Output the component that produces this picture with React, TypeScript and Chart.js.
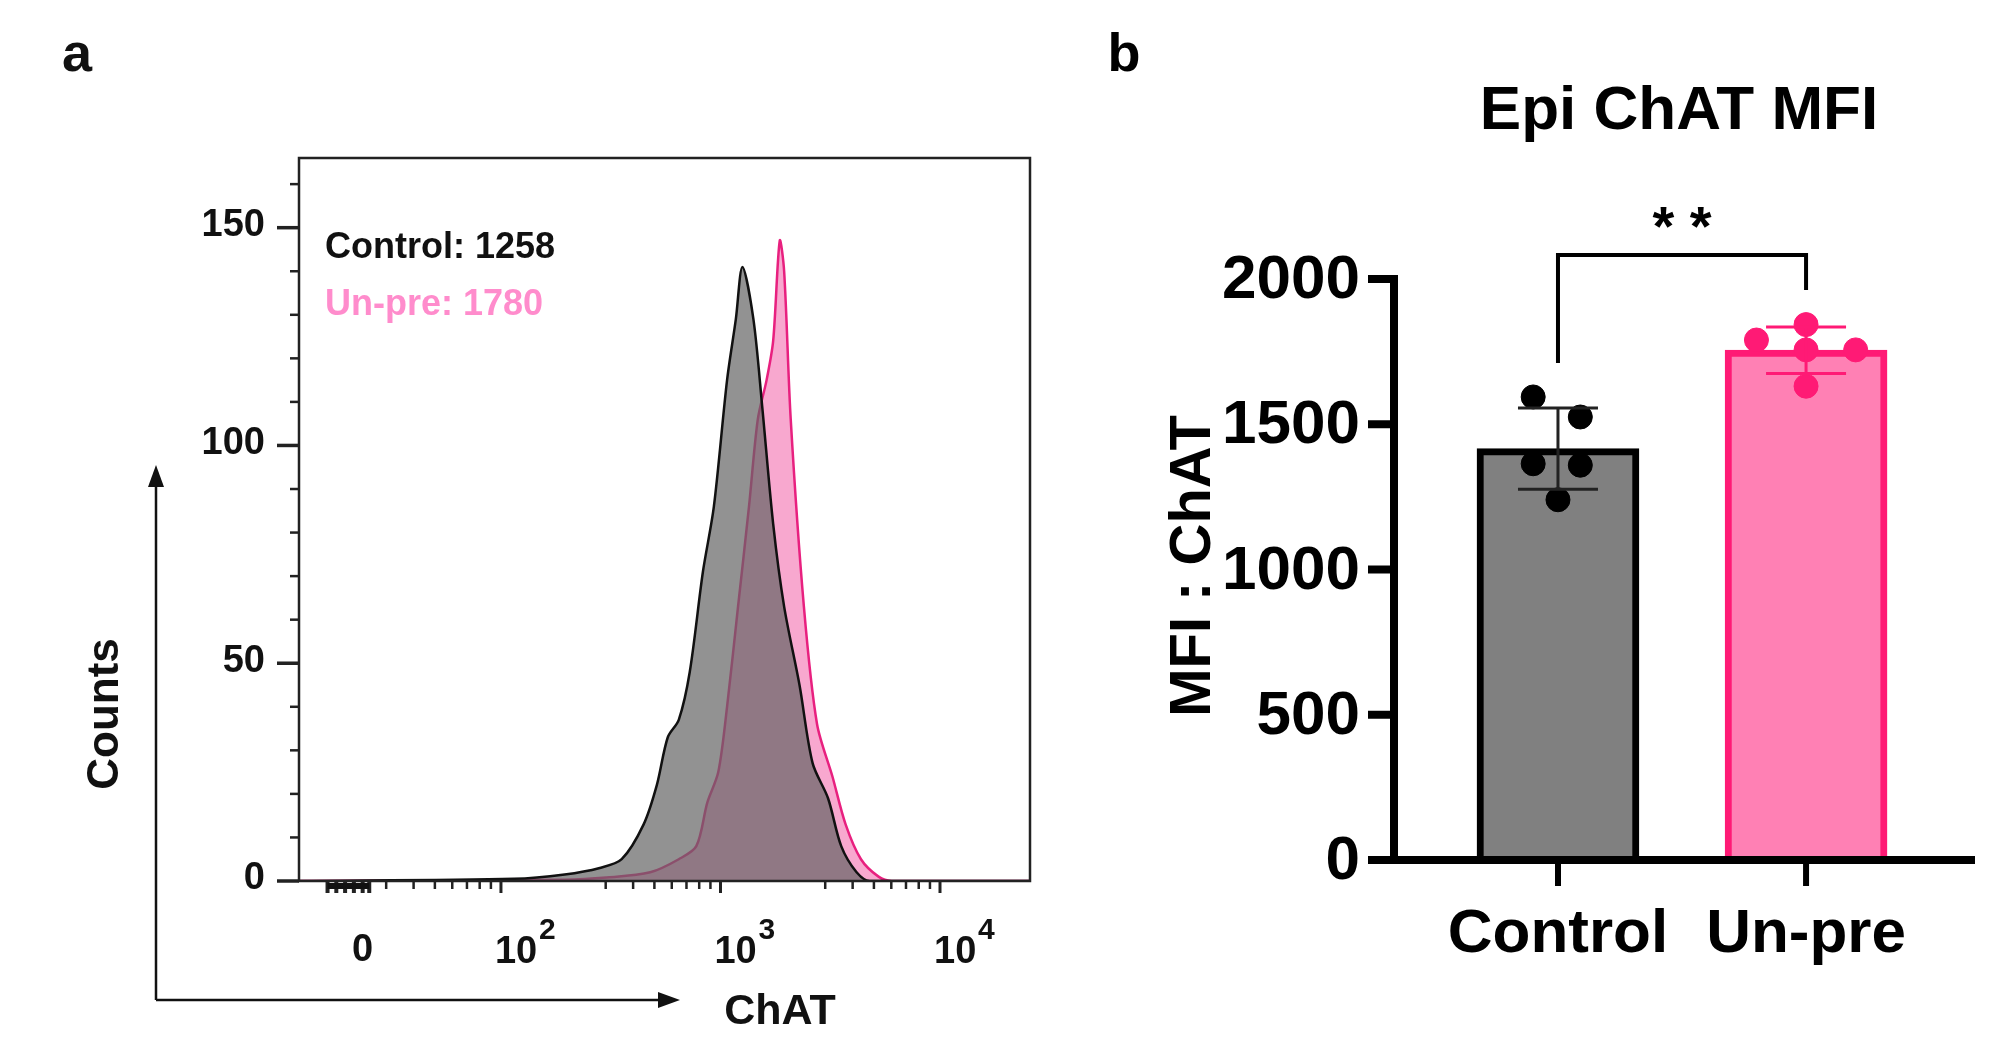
import React, { useEffect, useRef } from "react";
import { Chart, registerables } from "chart.js";
Chart.register(...registerables);

const FONT = '"Liberation Sans", Arial, sans-serif';

// ---------- Panel a: histogram (x in decade units: 2 = 10^2, 3 = 10^3) ----------
const controlX = [1.08, 2.06, 2.29, 2.45, 2.55, 2.65, 2.71, 2.76, 2.81, 2.86, 2.92, 2.97, 3.03, 3.07, 3.10, 3.15, 3.19, 3.24, 3.29, 3.36, 3.42, 3.49, 3.55, 3.62, 3.68, 4.41];
const controlY = [0, 0.5, 1.5, 3, 5, 13, 22, 33, 37, 48, 71, 86, 115, 129, 141, 129, 109, 82, 63, 45, 27, 19, 8, 2, 0, 0];
const unpreX = [1.08, 2.29, 2.48, 2.68, 2.81, 2.89, 2.94, 2.99, 3.03, 3.08, 3.13, 3.17, 3.21, 3.24, 3.27, 3.29, 3.32, 3.38, 3.44, 3.51, 3.57, 3.64, 3.72, 3.78, 4.41];
const unpreY = [0, 0.3, 0.8, 2, 5, 8, 18, 25, 40, 63, 86, 106, 115, 124, 147, 140, 106, 63, 36, 24, 13, 5, 1, 0, 0];
const histXMin = 1.08, histXMax = 4.41, histYMax = 166;
const countTicks = [0, 50, 100, 150];
const countMinor = [10, 20, 30, 40, 60, 70, 80, 90, 110, 120, 130, 140, 160];
const zeroPos = 1.37;
const decadeTicks = [2, 3, 4];
const zeroCluster = [1.21, 1.25, 1.29, 1.33, 1.37, 1.40];
const logMinor = [3, 4, 5, 6, 7, 8, 9];

// ---------- Panel b: bar chart ----------
const groups = ["Control", "Un-pre"];
const means = [1416, 1755];
const sds = [140, 80];
const controlDots = [1594, 1525, 1364, 1359, 1240];
const unpreDots = [1843, 1790, 1756, 1756, 1631];
const controlJitter = [-0.1, 0.09, -0.1, 0.09, 0];
const unpreJitter = [0, -0.2, 0.2, 0, 0];
const yTicksB = [0, 500, 1000, 1500, 2000];

function PanelA() {
  const ref = useRef<HTMLCanvasElement>(null);
  useEffect(() => {
    const pts = (xs: number[], ys: number[]) => xs.map((x, i) => ({ x, y: ys[i] }));
    const deco = {
      id: "decoA",
      afterDraw(chart: any) {
        const ctx = chart.ctx;
        const { left, right, top, bottom } = chart.chartArea;
        const xs = chart.scales.x, ys = chart.scales.y;
        ctx.save();
        ctx.strokeStyle = "#222";
        ctx.lineWidth = 2.5;
        ctx.strokeRect(left, top, right - left, bottom - top);
        ctx.fillStyle = "#111";
        ctx.font = `bold 38px ${FONT}`;
        ctx.textAlign = "right";
        ctx.textBaseline = "middle";
        countTicks.forEach((v) => {
          const y = ys.getPixelForValue(v);
          ctx.lineWidth = 3.5;
          ctx.beginPath(); ctx.moveTo(left - 22, y); ctx.lineTo(left, y); ctx.stroke();
          ctx.fillText(String(v), left - 34, y - 2);
        });
        countMinor.forEach((v) => {
          const y = ys.getPixelForValue(v);
          ctx.lineWidth = 2.5;
          ctx.beginPath(); ctx.moveTo(left - 9, y); ctx.lineTo(left, y); ctx.stroke();
        });
        const tick = (u: number, len: number, w: number) => {
          const x = xs.getPixelForValue(u);
          ctx.lineWidth = w;
          ctx.beginPath(); ctx.moveTo(x, bottom); ctx.lineTo(x, bottom + len); ctx.stroke();
        };
        decadeTicks.forEach((d) => tick(d, 12, 3));
        zeroCluster.forEach((u) => tick(u, 12, 4));
        ctx.fillRect(xs.getPixelForValue(zeroCluster[0]), bottom + 2, xs.getPixelForValue(zeroCluster[zeroCluster.length - 1]) - xs.getPixelForValue(zeroCluster[0]), 6);
        [1, 2, 3].forEach((d) => logMinor.forEach((k) => {
          const u = d + Math.log10(k);
          if (u > zeroCluster[zeroCluster.length - 1] + 0.05 && u < histXMax) tick(u, 8, 2.5);
        }));
        ctx.textBaseline = "alphabetic";
        ctx.textAlign = "center";
        ctx.font = `bold 38px ${FONT}`;
        ctx.fillText("0", xs.getPixelForValue(zeroPos), bottom + 80);
        decadeTicks.forEach((d) => {
          const x = xs.getPixelForValue(d);
          ctx.font = `bold 38px ${FONT}`;
          ctx.textAlign = "left";
          ctx.fillText("10", x - 6, bottom + 82);
          ctx.font = `bold 30px ${FONT}`;
          ctx.fillText(String(d), x + 38, bottom + 58);
        });
        ctx.textAlign = "left";
        ctx.font = `bold 36px ${FONT}`;
        ctx.fillStyle = "#111";
        ctx.fillText("Control: 1258", 325, 258);
        ctx.fillStyle = "#ff8ccc";
        ctx.fillText("Un-pre: 1780", 325, 315);
        ctx.strokeStyle = "#111";
        ctx.fillStyle = "#111";
        ctx.lineWidth = 2.5;
        ctx.beginPath(); ctx.moveTo(156, 1000); ctx.lineTo(156, 480); ctx.stroke();
        ctx.beginPath(); ctx.moveTo(156, 1000); ctx.lineTo(668, 1000); ctx.stroke();
        ctx.beginPath(); ctx.moveTo(156, 465); ctx.lineTo(148, 487); ctx.lineTo(164, 487); ctx.closePath(); ctx.fill();
        ctx.beginPath(); ctx.moveTo(680, 1000); ctx.lineTo(658, 992); ctx.lineTo(658, 1008); ctx.closePath(); ctx.fill();
        ctx.font = `bold 43px ${FONT}`;
        ctx.textAlign = "center";
        ctx.textBaseline = "middle";
        ctx.fillText("ChAT", 780, 1012);
        ctx.save();
        ctx.translate(106, 714);
        ctx.rotate(-Math.PI / 2);
        ctx.font = `bold 44px ${FONT}`;
        ctx.fillText("Counts", 0, 0);
        ctx.restore();
        ctx.font = `bold 54px ${FONT}`;
        ctx.fillText("a", 77, 56);
        ctx.restore();
      },
    };
    const chart = new Chart(ref.current!, {
      type: "line",
      data: {
        datasets: [
          { label: "Control", data: pts(controlX, controlY), borderColor: "#111", backgroundColor: "rgba(100,100,100,0.7)", borderWidth: 2.5, fill: "origin", pointRadius: 0, tension: 0.3 },
          { label: "Un-pre", data: pts(unpreX, unpreY), borderColor: "#e8207f", backgroundColor: "#f8a8cf", borderWidth: 2.5, fill: "origin", pointRadius: 0, tension: 0.3 },
        ],
      },
      options: {
        animation: false, responsive: false, devicePixelRatio: 1,
        layout: { padding: { left: 299, top: 158, right: 30, bottom: 1051 - 881 } },
        plugins: { legend: { display: false }, tooltip: { enabled: false } },
        scales: {
          x: { type: "linear", min: histXMin, max: histXMax, display: false },
          y: { min: 0, max: histYMax, display: false },
        },
      },
      plugins: [deco],
    });
    return () => chart.destroy();
  }, []);
  return <canvas ref={ref} width={1060} height={1051} style={{ position: "absolute", left: 0, top: 0, width: 1060, height: 1051 }} />;
}

function PanelB() {
  const ref = useRef<HTMLCanvasElement>(null);
  useEffect(() => {
    const deco = {
      id: "decoB",
      afterDatasetsDraw(chart: any) {
        const ctx = chart.ctx;
        const xs = chart.scales.x, ys = chart.scales.y;
        ctx.save();
        ctx.lineWidth = 3;
        means.forEach((m, i) => {
          const x = xs.getPixelForValue(i);
          ctx.strokeStyle = i === 0 ? "#222" : "#ff1a75";
          const yt = ys.getPixelForValue(m + sds[i]);
          const yb = ys.getPixelForValue(m - sds[i]);
          ctx.beginPath();
          ctx.moveTo(x, yt); ctx.lineTo(x, yb);
          ctx.moveTo(x - 40, yt); ctx.lineTo(x + 40, yt);
          ctx.moveTo(x - 40, yb); ctx.lineTo(x + 40, yb);
          ctx.stroke();
        });
        ctx.restore();
      },
      afterDraw(chart: any) {
        const ctx = chart.ctx;
        const { left, right, bottom } = chart.chartArea;
        const xs = chart.scales.x, ys = chart.scales.y;
        ctx.save();
        ctx.strokeStyle = "#000";
        ctx.fillStyle = "#000";
        ctx.lineWidth = 8;
        ctx.beginPath();
        ctx.moveTo(left, ys.getPixelForValue(yTicksB[yTicksB.length - 1]) - 4);
        ctx.lineTo(left, bottom);
        ctx.moveTo(left - 26, bottom); ctx.lineTo(right, bottom);
        ctx.stroke();
        ctx.font = `bold 62px ${FONT}`;
        ctx.textAlign = "right";
        ctx.textBaseline = "middle";
        yTicksB.forEach((v) => {
          const y = ys.getPixelForValue(v);
          ctx.beginPath(); ctx.moveTo(left - 26, y); ctx.lineTo(left, y); ctx.stroke();
          ctx.fillText(String(v), left - 34, y + 2);
        });
        ctx.textAlign = "center";
        ctx.textBaseline = "alphabetic";
        ctx.lineWidth = 6;
        groups.forEach((g, i) => {
          const x = xs.getPixelForValue(i);
          ctx.beginPath(); ctx.moveTo(x, bottom); ctx.lineTo(x, bottom + 26); ctx.stroke();
          ctx.fillText(g, x, bottom + 92);
        });
        const x0 = xs.getPixelForValue(0), x1 = xs.getPixelForValue(1);
        ctx.lineWidth = 4;
        ctx.beginPath();
        ctx.moveTo(x0, ys.getPixelForValue(1711));
        ctx.lineTo(x0, ys.getPixelForValue(2083));
        ctx.lineTo(x1, ys.getPixelForValue(2083));
        ctx.lineTo(x1, ys.getPixelForValue(1962));
        ctx.stroke();
        ctx.font = `bold 56px ${FONT}`;
        ctx.textBaseline = "middle";
        ctx.fillText("* *", (x0 + x1) / 2, 230);
        ctx.font = `bold 62px ${FONT}`;
        ctx.fillText("Epi ChAT MFI", (x0 + x1) / 2 - 3, 112);
        ctx.save();
        ctx.translate(1194 - 1060, 566);
        ctx.rotate(-Math.PI / 2);
        ctx.font = `bold 58px ${FONT}`;
        ctx.fillText("MFI : ChAT", 0, 0);
        ctx.restore();
        ctx.font = `bold 54px ${FONT}`;
        ctx.fillText("b", 1124 - 1060, 56);
        ctx.restore();
      },
    };
    const dots = (vals: number[], jit: number[], i: number) => vals.map((v, k) => ({ x: i + jit[k], y: v }));
    const chart = new Chart(ref.current!, {
      type: "bar",
      data: {
        datasets: [
          { type: "scatter", label: "Control pts", data: dots(controlDots, controlJitter, 0), backgroundColor: "#000", borderColor: "#000", pointRadius: 12, order: 0 } as any,
          { type: "scatter", label: "Un-pre pts", data: dots(unpreDots, unpreJitter, 1), backgroundColor: "#ff1a75", borderColor: "#ff1a75", pointRadius: 12, order: 0 } as any,
          {
            type: "bar", label: "Mean", data: means.map((m, i) => ({ x: i, y: m })),
            backgroundColor: ["#808080", "#ff80b4"], borderColor: ["#000", "#ff1a75"],
            borderWidth: 7, borderSkipped: "start", barThickness: 162, order: 1,
          } as any,
        ],
      },
      options: {
        animation: false, responsive: false, devicePixelRatio: 1,
        layout: { padding: { left: 1394 - 1060, top: 279, right: 2008 - 1975, bottom: 1051 - 860 } },
        plugins: { legend: { display: false }, tooltip: { enabled: false } },
        scales: {
          x: { type: "linear", min: -0.661, max: 1.681, display: false, offset: false },
          y: { min: 0, max: 2000, display: false },
        },
      },
      plugins: [deco],
    });
    return () => chart.destroy();
  }, []);
  return <canvas ref={ref} width={948} height={1051} style={{ position: "absolute", left: 1060, top: 0, width: 948, height: 1051 }} />;
}

export default function App() {
  return (
    <div style={{ position: "absolute", left: 0, top: 0, width: 2008, height: 1051, background: "#fff" }}>
      <PanelA />
      <PanelB />
    </div>
  );
}
